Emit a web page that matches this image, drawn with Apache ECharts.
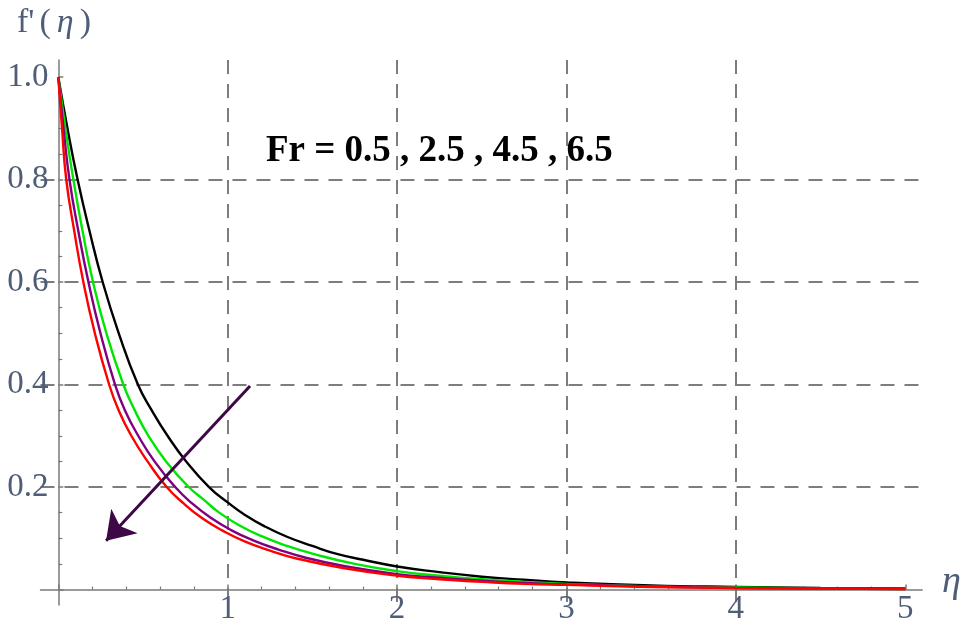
<!DOCTYPE html>
<html>
<head>
<meta charset="utf-8">
<script src="https://cdn.jsdelivr.net/npm/echarts@6/dist/echarts.min.js"></script>
<style>
  html, body { margin: 0; padding: 0; background: #fff; }
  #chart { width: 968px; height: 630px; }
</style>
</head>
<body>
<div id="chart"></div>
<script>
// f'(eta) for Fr = 0.5, 2.5, 4.5, 6.5 ([eta, f'])
const frValues = ['0.5', '2.5', '4.5', '6.5'];
const fr05 = [[0, 1], [0.054, 0.9], [0.114, 0.8], [0.184, 0.7], [0.262, 0.6], [0.357, 0.5], [0.47, 0.4], [0.551, 0.35], [0.645, 0.3], [0.755, 0.25], [0.89, 0.2], [1, 0.17], [1.1, 0.146], [1.22, 0.123], [1.35, 0.103], [1.5, 0.085], [1.65, 0.069], [1.8, 0.058], [2, 0.045], [2.25, 0.034], [2.5, 0.025], [2.75, 0.019], [3, 0.014], [3.5, 0.008], [4, 0.005], [4.5, 0.003], [5, 0.002]];
const fr25 = [[0, 1], [0.042, 0.9], [0.089, 0.8], [0.143, 0.7], [0.205, 0.6], [0.284, 0.5], [0.384, 0.4], [0.451, 0.35], [0.532, 0.3], [0.636, 0.25], [0.77, 0.2], [0.86, 0.175], [0.95, 0.15], [1.07, 0.125], [1.2, 0.104], [1.35, 0.085], [1.5, 0.07], [1.75, 0.05], [2, 0.036], [2.25, 0.027], [2.5, 0.02], [2.75, 0.015], [3, 0.011], [3.5, 0.006], [4, 0.004], [4.5, 0.002], [5, 0.001]];
const fr45 = [[0, 1], [0.031, 0.9], [0.066, 0.8], [0.118, 0.7], [0.178, 0.6], [0.249, 0.5], [0.335, 0.4], [0.393, 0.35], [0.472, 0.3], [0.568, 0.25], [0.69, 0.2], [0.79, 0.168], [0.9, 0.14], [1.02, 0.116], [1.15, 0.096], [1.3, 0.078], [1.45, 0.063], [1.7, 0.045], [2, 0.03], [2.25, 0.023], [2.5, 0.017], [2.75, 0.013], [3, 0.01], [3.5, 0.006], [4, 0.003], [4.5, 0.002], [5, 0.001]];
const fr65 = [[0, 1], [0.022, 0.9], [0.047, 0.8], [0.094, 0.7], [0.148, 0.6], [0.216, 0.5], [0.30, 0.4], [0.356, 0.35], [0.431, 0.3], [0.527, 0.25], [0.64, 0.2], [0.74, 0.168], [0.85, 0.139], [0.97, 0.115], [1.1, 0.094], [1.25, 0.076], [1.4, 0.061], [1.7, 0.041], [2, 0.027], [2.25, 0.02], [2.5, 0.015], [2.75, 0.011], [3, 0.009], [3.5, 0.005], [4, 0.003], [4.5, 0.002], [5, 0.001]];
const curves = [fr05, fr25, fr45, fr65];
const curveColors = ['#000000', '#00e600', '#800080', '#ff0000'];

const xTickValues = [0, 1, 2, 3, 4, 5];
const xTickLabels = [1, 2, 3, 4, 5];
const yTickValues = [0, 0.2, 0.4, 0.6, 0.8, 1.0];
const yTickLabels = [0.2, 0.4, 0.6, 0.8, 1.0];

// arrow showing increasing Fr (tail, tip)
const arrowStart = [1.132, 0.397];
const arrowEnd = [0.282, 0.095];

const axisColor = '#7a7a7a';
const labelColor = '#4f5d78';
const serif = "'Liberation Serif', 'DejaVu Serif', serif";

const chart = echarts.init(document.getElementById('chart'));

const gridDash = { type: [14, 10], color: '#7d7d7d', width: 2 };

const series = curves.map((d, i) => ({
    name: 'Fr = ' + frValues[i],
    type: 'line',
    data: d,
    showSymbol: false,
    smooth: 0.5,
    lineStyle: { color: curveColors[i], width: 2.4 },
    z: 3
}));

series.push({
    type: 'lines',
    coordinateSystem: 'cartesian2d',
    data: [{ coords: [arrowStart, arrowEnd] }],
    symbol: ['none', 'arrow'],
    symbolSize: [15, 27],
    lineStyle: { color: '#3d0845', width: 3, opacity: 1 },
    z: 4
});

const options = {
    animation: false,
    backgroundColor: '#ffffff',
    grid: { left: 40.5, right: 45.8, top: 60.1, bottom: 25.1, containLabel: false, outerBoundsMode: 'none' },
    xAxis: {
        type: 'value',
        min: -0.105,
        max: 5.1,
        axisLine: { onZero: true, lineStyle: { color: axisColor, width: 1.5 } },
        axisTick: { show: true, inside: true, length: 5, customValues: xTickValues, lineStyle: { color: axisColor, width: 1.5 } },
        minorTick: { show: true, splitNumber: 5, length: 3, lineStyle: { color: axisColor, width: 1.2 } },
        axisLabel: {
            customValues: xTickLabels,
            margin: -12.5,
            fontFamily: serif,
            fontSize: 33,
            color: labelColor,
            formatter: v => String(v)
        },
        splitLine: { show: true, showMinLine: false, showMaxLine: false, lineStyle: gridDash }
    },
    yAxis: {
        type: 'value',
        min: -0.03,
        max: 1.033,
        axisLine: { onZero: true, lineStyle: { color: axisColor, width: 1.5 } },
        axisTick: { show: true, inside: true, length: 5, customValues: yTickValues, lineStyle: { color: axisColor, width: 1.5 } },
        minorTick: { show: true, splitNumber: 4, length: 4, lineStyle: { color: axisColor, width: 1.2 } },
        axisLabel: {
            customValues: yTickLabels,
            margin: -8,
            fontFamily: serif,
            fontSize: 33,
            color: labelColor,
            formatter: v => v.toFixed(1)
        },
        splitLine: { show: true, showMinLine: false, showMaxLine: false, lineStyle: gridDash }
    },
    graphic: [
        {
            type: 'text',
            left: 17,
            top: 6,
            style: {
                text: "{a|f'}{b|(}{i|η}{b|)}",
                font: '34px ' + serif,
                fill: labelColor,
                rich: {
                    a: { fontFamily: serif, fontSize: 34, fill: labelColor, padding: [0, 2, 0, 0] },
                    b: { fontFamily: serif, fontSize: 34, fill: labelColor, padding: [0, 3, 0, 3] },
                    i: { fontStyle: 'italic', fontFamily: serif, fontSize: 34, fill: labelColor, padding: [0, 3, 0, 3] }
                }
            }
        },
        {
            type: 'text',
            left: 942,
            top: 563,
            style: {
                text: 'η',
                font: 'italic 38px ' + serif,
                fill: labelColor
            }
        },
        {
            type: 'text',
            left: 266,
            top: 133,
            style: {
                text: 'Fr = 0.5 , 2.5 , 4.5 , 6.5',
                font: 'bold 37px ' + serif,
                fill: '#000000'
            }
        }
    ],
    series: series
};

chart.setOption(options);
</script>
</body>
</html>
